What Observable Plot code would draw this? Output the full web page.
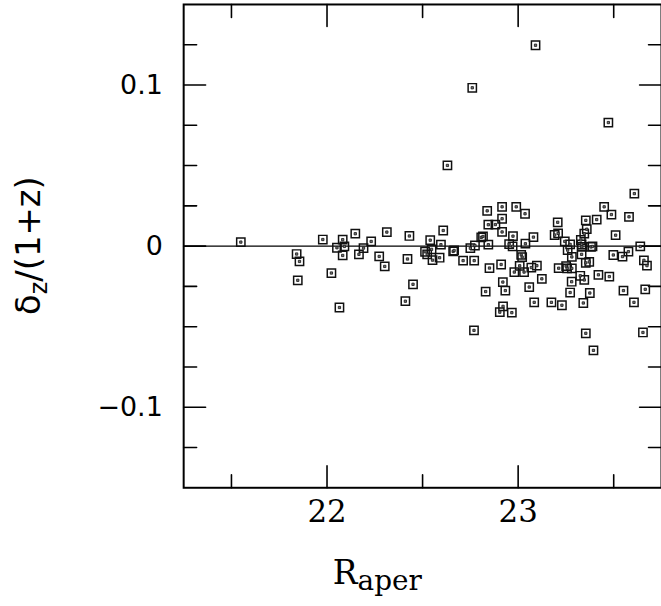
<!DOCTYPE html>
<html><head><meta charset="utf-8">
<script src="https://cdn.jsdelivr.net/npm/d3@7"></script>
<script src="https://cdn.jsdelivr.net/npm/@observablehq/plot@0.6"></script>
<style>
html,body{margin:0;padding:0;background:#fff;overflow:hidden}
#chart{width:661px;height:606px;overflow:hidden;position:relative}
#chart svg{display:block}
</style>
</head><body><div id="chart"></div>
<script>
const rAper = [
21.549,21.978,21.841,21.856,21.847,22.023,22.065,22.082,22.052,22.091,22.082,22.148,22.167,22.231,22.191,22.273,22.302,22.313,22.431,22.421,22.450,22.410,
22.630,22.760,23.091,23.472,22.540,22.608,22.596,22.513,22.524,22.547,22.552,22.589,22.660,22.665,22.712,22.770,22.750,22.774,22.807,22.816,22.844,22.838,
22.916,22.990,23.036,22.844,22.881,22.916,22.916,22.973,22.953,22.971,23.038,23.080,23.016,23.021,22.850,22.911,23.008,22.980,23.031,23.069,23.098,23.124,
22.920,22.933,22.830,23.058,22.921,22.904,22.967,22.769,23.084,23.174,23.229,23.341,23.272,23.375,23.280,23.325,23.346,23.212,23.251,23.256,23.281,23.420,
23.477,23.551,23.606,23.665,23.658,23.674,23.639,23.577,23.546,23.498,23.510,23.580,23.608,23.450,23.488,23.411,23.354,23.359,23.346,23.207,23.191,23.209,
23.244,23.272,23.259,23.328,23.332,23.333,23.381,23.389,23.281,23.332,23.354,23.372,23.354,23.653,23.394
];
const deltaZ = [
0.0025,0.0041,-0.0049,-0.0095,-0.0212,-0.0167,-0.0381,0.0040,-0.0010,-0.0002,-0.0058,0.0077,-0.0051,0.0029,-0.0012,-0.0064,-0.0126,0.0087,0.0063,-0.0080,-0.0237,-0.0342,
0.0501,0.0983,0.1247,0.0767,0.0037,0.0097,0.0009,-0.0035,-0.0051,-0.0020,-0.0087,-0.0072,-0.0033,-0.0027,-0.0090,-0.0090,-0.0013,0.0004,0.0054,0.0060,0.0009,0.0219,
0.0244,0.0244,0.0201,0.0133,0.0134,0.0170,0.0088,0.0062,0.0012,-0.0001,0.0015,0.0056,-0.0054,-0.0068,-0.0136,-0.0114,-0.0122,-0.0161,-0.0161,-0.0133,-0.0121,-0.0203,
-0.0223,-0.0276,-0.0282,-0.0254,-0.0374,-0.0410,-0.0413,-0.0523,-0.0349,-0.0349,-0.0367,-0.0353,-0.0288,-0.0291,-0.0221,-0.0184,-0.0210,-0.0137,-0.0124,-0.0138,-0.0138,-0.0178,
-0.0189,-0.0276,-0.0349,-0.0268,-0.0088,-0.0121,-0.0002,-0.0034,-0.0065,-0.0055,0.0068,0.0182,0.0326,0.0244,0.0196,0.0165,0.0160,0.0105,0.0077,0.0148,0.0069,0.0079,
0.0029,0.0011,-0.0025,0.0038,0.0011,-0.0005,-0.0005,-0.0002,-0.0067,-0.0051,-0.0104,-0.0098,-0.0541,-0.0536,-0.0647
];
const xMajorTicks = [22, 23];
const xMinorTicks = [21.5, 22.5, 23.5];
const xTickLabels = ["22", "23"];
const yMajorTicks = [-0.1, 0, 0.1];
const yMinorTicks = [-0.125, -0.075, -0.05, -0.025, 0.025, 0.05, 0.075, 0.125];
const yTickLabels = ["\u22120.1", "0", "0.1"];
const xTitle = ["R", "aper"];
const yTitle = ["\u03B4", "z", "/(1+z)"];

const points = rAper.map((x, i) => ({x, y: deltaZ[i]}));
const line = {draw(ctx, l) { ctx.moveTo(0, 0); ctx.lineTo(0, -l); }};
const tickOpts = {anchor: "start", shape: line, stroke: "black", strokeWidth: 1.6};

const plot = Plot.plot({
  width: 664, height: 606,
  marginLeft: 184, marginRight: 0, marginTop: 4, marginBottom: 116.5,
  x: {domain: [21.25, 23.75], axis: null},
  y: {domain: [-0.15, 0.15], axis: null},
  style: {background: "white", overflow: "visible"},
  marks: [
    Plot.ruleY([0], {stroke: "black", strokeWidth: 1.4}),
    Plot.vector(xMajorTicks, {x: d => d, frameAnchor: "bottom", rotate: 0, length: 22, ...tickOpts}),
    Plot.vector(xMinorTicks, {x: d => d, frameAnchor: "bottom", rotate: 0, length: 13, ...tickOpts}),
    Plot.vector(xMajorTicks, {x: d => d, frameAnchor: "top", rotate: 180, length: 22, ...tickOpts}),
    Plot.vector(xMinorTicks, {x: d => d, frameAnchor: "top", rotate: 180, length: 13, ...tickOpts}),
    Plot.vector(yMajorTicks, {y: d => d, frameAnchor: "left", rotate: 90, length: 22, ...tickOpts}),
    Plot.vector(yMinorTicks, {y: d => d, frameAnchor: "left", rotate: 90, length: 13, ...tickOpts}),
    Plot.vector(yMajorTicks, {y: d => d, frameAnchor: "right", rotate: -90, length: 22, ...tickOpts}),
    Plot.vector(yMinorTicks, {y: d => d, frameAnchor: "right", rotate: -90, length: 13, ...tickOpts}),
    Plot.frame({stroke: "black", strokeWidth: 2}),
    Plot.text(xMajorTicks, {x: d => d, frameAnchor: "bottom", dy: 34, text: (d, i) => xTickLabels[i],
      fontSize: 31, fontFamily: "DejaVu Serif", fill: "black"}),
    Plot.text(yMajorTicks, {y: d => d, frameAnchor: "left", dx: -21, textAnchor: "end", text: (d, i) => yTickLabels[i],
      fontSize: 27, fontFamily: "DejaVu Sans", fill: "black"}),
    Plot.dot(points, {x: "x", y: "y", symbol: "square", r: 4.7, stroke: "#111", strokeWidth: 1.5, fill: "none"}),
    Plot.dot(points, {x: "x", y: "y", symbol: "square", r: 1.3, stroke: "#222", strokeWidth: 0.9, fill: "#777"})
  ]
});

const svg = d3.select(plot);
const xt = svg.append("text")
  .attr("x", 379).attr("y", 587)
  .attr("font-family", "DejaVu Serif").attr("font-size", 33).attr("fill", "black");
xt.append("tspan").text(xTitle[0]);
xt.append("tspan").attr("font-size", 28).attr("dy", 6).text(xTitle[1]);
const yt = svg.append("text")
  .attr("transform", "translate(40,246.7) rotate(-90)")
  .attr("text-anchor", "middle")
  .attr("font-family", "DejaVu Sans").attr("font-size", 34).attr("fill", "black");
yt.append("tspan").text(yTitle[0]);
yt.append("tspan").attr("font-size", 24).attr("dy", 7).text(yTitle[1]);
yt.append("tspan").attr("dy", -7).text(yTitle[2]);

document.getElementById("chart").appendChild(plot);
</script>
</body></html>
